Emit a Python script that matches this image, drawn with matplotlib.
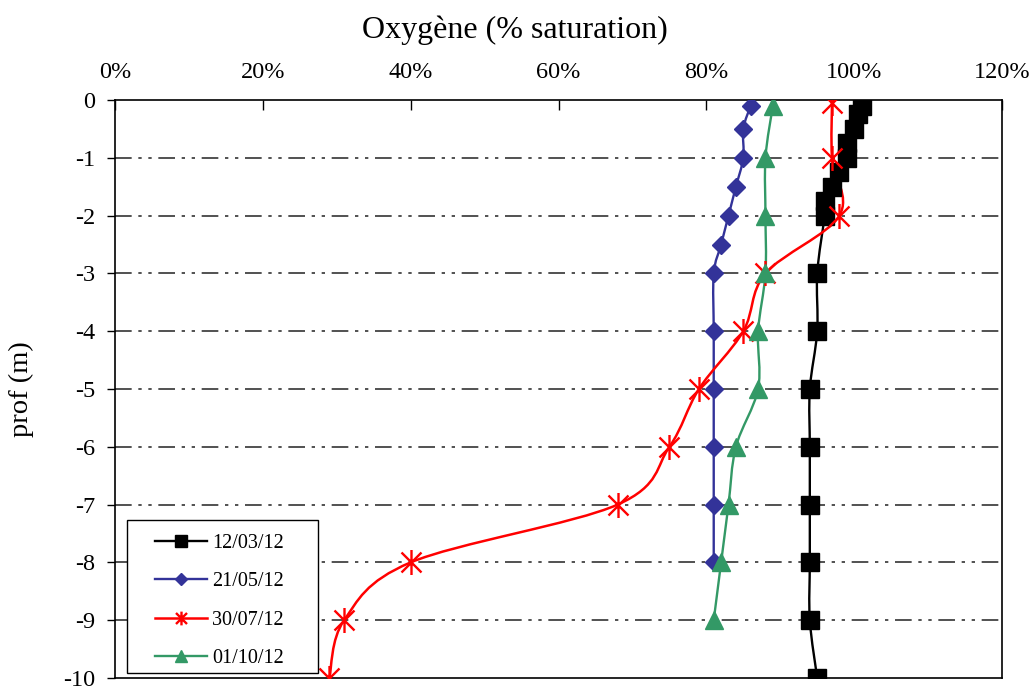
import numpy as np
import matplotlib
matplotlib.use("Agg")
import matplotlib.pyplot as plt
from matplotlib.path import Path
from matplotlib.patches import PathPatch, Rectangle
from matplotlib.lines import Line2D
from matplotlib.ticker import FuncFormatter

plt.rcParams['font.family'] = ['Liberation Serif', 'DejaVu Serif']
plt.rcParams['axes.unicode_minus'] = False

# ---- data ----
labels = ["12/03/12", "21/05/12", "30/07/12", "01/10/12"]

depth_1203 = [-0.1, -0.25, -0.5, -0.75, -1, -1.25, -1.5, -1.75, -2, -3, -4, -5, -6, -7, -8, -9, -10]
oxy_1203 = [101, 100.5, 100, 99, 99, 98, 97, 96, 96, 95, 95, 94, 94, 94, 94, 94, 95]

depth_2105 = [-0.1, -0.5, -1, -1.5, -2, -2.5, -3, -4, -5, -6, -7, -8]
oxy_2105 = [86, 85, 85, 84, 83, 82, 81, 81, 81, 81, 81, 81]

depth_3007 = [-0.05, -1, -2, -3, -4, -5, -6, -7, -8, -9, -10]
oxy_3007 = [97, 97, 98, 88, 85, 79, 75, 68, 40, 31, 29]

depth_0110 = [-0.1, -1, -2, -3, -4, -5, -6, -7, -8, -9]
oxy_0110 = [89, 88, 88, 88, 87, 87, 84, 83, 82, 81]

xticks = [0, 20, 40, 60, 80, 100, 120]
yticks = [0, -1, -2, -3, -4, -5, -6, -7, -8, -9, -10]

# ---- helpers ----
def smooth_path(xs, ys):
    pts = np.column_stack([xs, ys]).astype(float)
    n = len(pts)
    verts = [pts[0]]
    codes = [Path.MOVETO]
    for i in range(n - 1):
        p0 = pts[i - 1] if i > 0 else pts[i]
        p1 = pts[i]
        p2 = pts[i + 1]
        p3 = pts[i + 2] if i + 2 < n else pts[i + 1]
        c1 = p1 + (p2 - p0) / 6.0
        c2 = p2 - (p3 - p1) / 6.0
        verts += [c1, c2, p2]
        codes += [Path.CURVE4] * 3
    return Path(verts, codes)

star = Path([(-1, -1), (1, 1), (-1, 1), (1, -1), (0, -1.25), (0, 1.25)],
            [Path.MOVETO, Path.LINETO, Path.MOVETO, Path.LINETO, Path.MOVETO, Path.LINETO])

fig = plt.figure(figsize=(10.36, 6.89), dpi=100)
ax = fig.add_axes([115 / 1036, 1 - 678 / 689, (1002 - 115) / 1036, (678 - 100) / 689])

series = [
    (oxy_1203, depth_1203, "black", dict(marker="s", markersize=13, markerfacecolor="black", markeredgecolor="black"), 1.7, 0.62),
    (oxy_2105, depth_2105, "#333399", dict(marker="D", markersize=9.5, markerfacecolor="#333399", markeredgecolor="#333399"), 1.7, 0.65),
    (oxy_3007, depth_3007, "#ff0000", dict(marker=star, markersize=18, markerfacecolor="none", markeredgecolor="#ff0000", markeredgewidth=1.7), 1.8, 0.55),
    (oxy_0110, depth_0110, "#339966", dict(marker="^", markersize=12.5, markerfacecolor="#339966", markeredgecolor="#339966"), 1.7, 0.7),
]

handles = []
for (xs, ys, col, mk, lw, lscale), lab in zip(series, labels):
    ax.add_patch(PathPatch(smooth_path(xs, ys), facecolor="none", edgecolor=col, lw=lw, zorder=3))
    ax.plot(xs, ys, linestyle="none", zorder=4, **mk)
    mk_leg = dict(mk)
    mk_leg["markersize"] = mk["markersize"] * lscale
    handles.append(Line2D([], [], color=col, lw=lw, **mk_leg))

ax.set_xlim(0, 120)
ax.set_ylim(-10, 0)
ax.set_xticks(xticks)
ax.set_yticks(yticks)
ax.xaxis.set_major_formatter(FuncFormatter(lambda v, p: f"{v:.0f}%"))
ax.xaxis.tick_top()
ax.xaxis.set_label_position("top")
ax.tick_params(axis="x", direction="in", length=7, labelsize=17.5, pad=12, width=1)
ax.tick_params(axis="y", direction="out", length=6, labelsize=17.5, pad=8, width=1)

for y in yticks[1:-1]:
    ax.axhline(y, color="#333333", lw=1.2, dashes=(10, 4, 2, 4, 2, 4), zorder=1)

for s in ax.spines.values():
    s.set_color("black")
    s.set_linewidth(1.2)

ax.set_xlabel("Oxygène (% saturation)", fontsize=23)
ax.xaxis.set_label_coords((515 - 115) / 887, 1.108)
ax.set_ylabel("prof (m)", fontsize=20.5)
ax.yaxis.set_label_coords(-0.091, 0.5)

# legend frame drawn in axes coordinates
ax.add_patch(Rectangle(((127 - 115) / 887, (678 - 673) / 578), 191 / 887, 153 / 578,
                       transform=ax.transAxes, facecolor="white", edgecolor="black", lw=1.0, zorder=5))
leg = ax.legend(handles=handles, labels=labels, loc="upper left",
                bbox_to_anchor=((155 - 115) / 887, (678 - 534) / 578),
                fontsize=14.5, frameon=False, borderpad=0, borderaxespad=0,
                handlelength=2.6, labelspacing=0.95, handletextpad=0.25)
leg.set_zorder(6)

fig.savefig("out.png", dpi=100)
